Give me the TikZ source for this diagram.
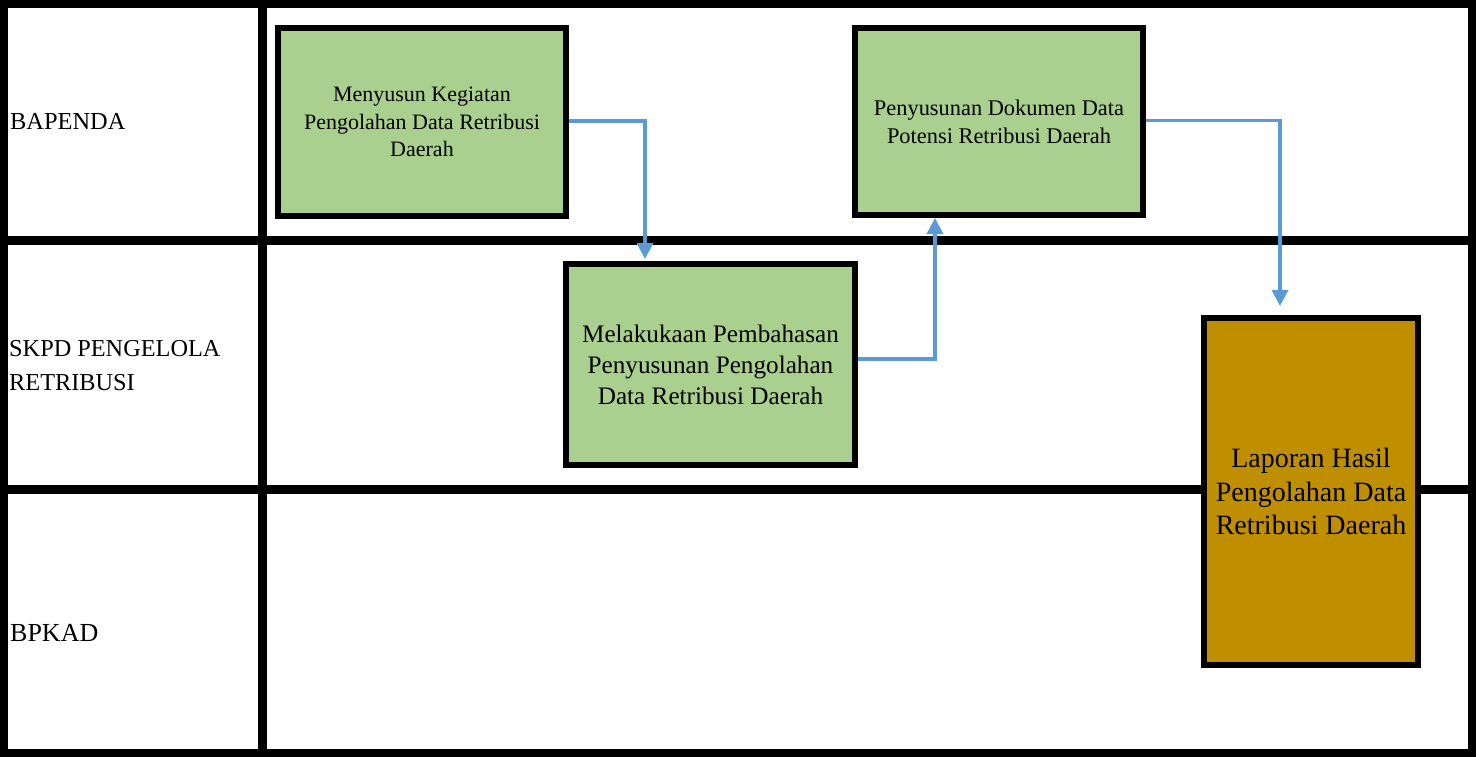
\documentclass[tikz,border=0pt]{standalone}
\usepackage{fontspec}
\setmainfont{Liberation Serif}
\usetikzlibrary{arrows.meta}
\definecolor{boxgreen}{RGB}{169,208,142}
\definecolor{boxgold}{RGB}{191,143,0}
\definecolor{flowblue}{RGB}{91,155,213}
\tikzset{
  procbox/.style={draw=black, line width=6pt, fill=boxgreen, align=center, inner sep=0pt},
  reportbox/.style={procbox, fill=boxgold},
  lanelabel/.style={anchor=base west, align=left, inner sep=0pt},
  flow/.style={draw=flowblue, line width=3.5pt, -{Triangle[length=16pt,width=16pt]}},
  gridline/.style={line width=9pt},
}
\begin{document}
\begin{tikzpicture}[x=1pt,y=-1pt]
\useasboundingbox (0,0) rectangle (1476,757);
\fill[white] (0,0) rectangle (1476,757);
% table
\draw[line width=8pt] (4,4) rectangle (1472,753);
\draw[gridline] (262.5,0) -- (262.5,757);
\draw[gridline] (0,240.5) -- (1476,240.5);
\draw[gridline] (0,489.5) -- (1476,489.5);
% lane labels
\node[lanelabel, font=\fontsize{24.4}{30}\selectfont] (l1) at (10,130) {BAPENDA};
\node[lanelabel, font=\fontsize{24.3}{34}\selectfont] (l2) at (9,390) {SKPD PENGELOLA\\RETRIBUSI};
\node[lanelabel, font=\fontsize{26}{30}\selectfont] (l3) at (10,641) {BPKAD};
% boxes
\node[procbox, minimum width=288pt, minimum height=188pt, font=\fontsize{22}{27.5}\selectfont] (b1) at (422,122)
  {Menyusun Kegiatan\\Pengolahan Data Retribusi\\Daerah};
\node[procbox, minimum width=289pt, minimum height=201pt, font=\fontsize{25.2}{31}\selectfont] (b2) at (710.5,364.5)
  {Melakukaan Pembahasan\\Penyusunan Pengolahan\\Data Retribusi Daerah};
\node[procbox, minimum width=288pt, minimum height=187pt, font=\fontsize{22.4}{28}\selectfont] (b3) at (999,121.5)
  {Penyusunan Dokumen Data\\Potensi Retribusi Daerah};
\node[reportbox, minimum width=214pt, minimum height=347pt, font=\fontsize{28}{33.5}\selectfont] (b4) at (1311,491.5)
  {Laporan Hasil\\Pengolahan Data\\Retribusi Daerah};
% connectors
\draw[flow, shorten >=2pt] ([yshift=1pt]b1.east) -| ([xshift=-65.5pt]b2.north);
\draw[flow] ([yshift=5.5pt]b2.east) -| ([xshift=-64pt]b3.south);
\draw[flow, shorten >=9pt] ([yshift=1pt]b3.east) -| ([xshift=-31pt]b4.north);
\end{tikzpicture}
\end{document}
